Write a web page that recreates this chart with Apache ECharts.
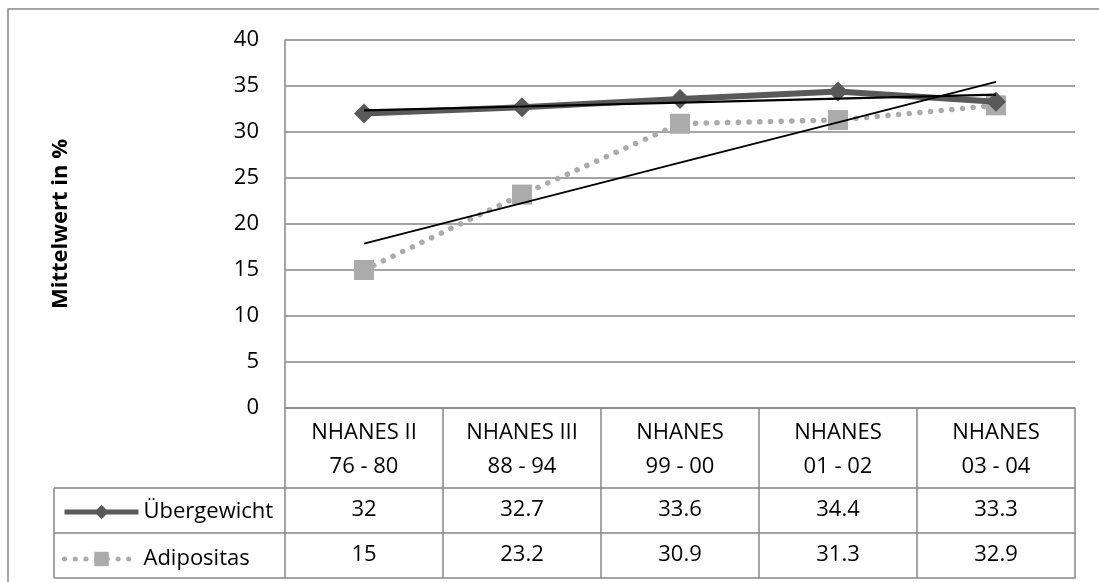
<!DOCTYPE html>
<html>
<head>
<meta charset="utf-8">
<script src="https://cdn.jsdelivr.net/npm/echarts@6/dist/echarts.min.js"></script>
<style>
  html, body { margin: 0; padding: 0; background: #fff; }
  #chart { width: 1099px; height: 582px; }
</style>
</head>
<body>
<div id="chart"></div>
<script>
// Survey waves (x categories)
const categories = ['NHANES II\n76 - 80', 'NHANES III\n88 - 94', 'NHANES\n99 - 00', 'NHANES\n01 - 02', 'NHANES\n03 - 04'];
// Mean share in %
const overweight = [32, 32.7, 33.6, 34.4, 33.3];
const obesity = [15, 23.2, 30.9, 31.3, 32.9];
const seriesNames = ['Übergewicht', 'Adipositas'];
const yTicks = { min: 0, max: 40, interval: 5 };

// Ordinary least-squares trend across the waves (x = 1..n)
function linearTrend(values) {
  const n = values.length;
  const xs = values.map((_, i) => i + 1);
  const mx = xs.reduce((a, b) => a + b, 0) / n;
  const my = values.reduce((a, b) => a + b, 0) / n;
  let sxy = 0, sxx = 0;
  xs.forEach((x, i) => { sxy += (x - mx) * (values[i] - my); sxx += (x - mx) * (x - mx); });
  const slope = sxy / sxx;
  return xs.map(x => +(my + slope * (x - mx)).toFixed(3));
}

const FONT = '"Open Sans", "DejaVu Sans", sans-serif';
const GRID_COLOR = '#868686';
const DARK = '#595959';
const LIGHT = '#ababab';

const grid = { left: 285, right: 24, top: 40, bottom: 174 };
const rowLine = { color: GRID_COLOR, width: 1.5 };
const dotted = [0.1, 10.6];

function valueAxis(values, offset) {
  return {
    type: 'category', data: categories, position: 'bottom', offset: offset,
    boundaryGap: true,
    axisLine: { show: true, lineStyle: rowLine },
    axisTick: { show: false },
    axisLabel: {
      show: values !== null, interval: 0, margin: 22, verticalAlign: 'middle',
      fontFamily: FONT, fontSize: 22, color: '#000',
      formatter: (v, i) => values ? String(values[i]) : ''
    },
    splitLine: { show: false }
  };
}

const chart = echarts.init(document.getElementById('chart'), null, { renderer: 'canvas' });

chart.setOption({
  animation: false,
  backgroundColor: '#fff',
  grid: grid,
  legend: {
    data: [
      { name: seriesNames[0], lineStyle: { color: DARK, width: 5 }, itemStyle: { color: DARK } },
      { name: seriesNames[1], lineStyle: { color: LIGHT, width: 5, type: dotted, cap: 'round' }, itemStyle: { color: LIGHT } }
    ],
    orient: 'vertical',
    left: 57, top: 496,
    itemWidth: 74, itemHeight: 18, itemGap: 25,
    textStyle: { fontFamily: FONT, fontSize: 22, color: '#000', lineHeight: 22 },
    selectedMode: false
  },
  xAxis: [
    {
      type: 'category', data: categories, position: 'bottom', boundaryGap: true,
      axisLine: { show: true, lineStyle: rowLine },
      axisTick: { show: true, length: 170, inside: false, lineStyle: rowLine },
      axisLabel: { interval: 0, margin: 8, fontFamily: FONT, fontSize: 22, lineHeight: 34, color: '#000', align: 'center' },
      splitLine: { show: false }
    },
    valueAxis(overweight, 80),
    valueAxis(obesity, 125),
    valueAxis(null, 170)
  ],
  yAxis: {
    type: 'value', min: yTicks.min, max: yTicks.max, interval: yTicks.interval,
    name: 'Mittelwert in %', nameLocation: 'middle', nameRotate: 90, nameGap: 213,
    nameTextStyle: { fontFamily: FONT, fontSize: 22, fontWeight: 'bold', color: '#000' },
    axisLine: { show: true, lineStyle: rowLine },
    axisTick: { show: false },
    axisLabel: { margin: 26, fontFamily: FONT, fontSize: 22, color: '#000' },
    splitLine: { show: true, lineStyle: { color: GRID_COLOR, width: 1.5 } }
  },
  series: [
    {
      name: seriesNames[0], type: 'line', data: overweight,
      symbol: 'diamond', symbolSize: 20,
      itemStyle: { color: DARK },
      lineStyle: { color: DARK, width: 6 },
      z: 3
    },
    {
      name: seriesNames[1], type: 'line', data: obesity,
      symbol: 'rect', symbolSize: 20,
      itemStyle: { color: LIGHT },
      lineStyle: { color: LIGHT, width: 5.5, type: dotted, cap: 'round' },
      z: 2
    },
    {
      name: 'Trend Übergewicht', type: 'line', data: linearTrend(overweight),
      symbol: 'none', silent: true,
      lineStyle: { color: '#000', width: 2.2 }, z: 5
    },
    {
      name: 'Trend Adipositas', type: 'line', data: linearTrend(obesity),
      symbol: 'none', silent: true,
      lineStyle: { color: '#000', width: 1.8 }, z: 5
    }
  ],
  graphic: [
    // outer chart frame
    { type: 'rect', shape: { x: 8, y: 9, width: 1120, height: 620 }, style: { fill: 'none', stroke: GRID_COLOR, lineWidth: 1.5 }, silent: true },
    // legend cells of the data table
    { type: 'line', shape: { x1: 54, y1: 488, x2: 285, y2: 488 }, style: { stroke: GRID_COLOR, lineWidth: 1.5 }, silent: true },
    { type: 'line', shape: { x1: 54, y1: 533, x2: 285, y2: 533 }, style: { stroke: GRID_COLOR, lineWidth: 1.5 }, silent: true },
    { type: 'line', shape: { x1: 54, y1: 578, x2: 285, y2: 578 }, style: { stroke: GRID_COLOR, lineWidth: 1.5 }, silent: true },
    { type: 'line', shape: { x1: 54, y1: 488, x2: 54, y2: 578 }, style: { stroke: GRID_COLOR, lineWidth: 1.5 }, silent: true }
  ]
});
</script>
</body>
</html>
